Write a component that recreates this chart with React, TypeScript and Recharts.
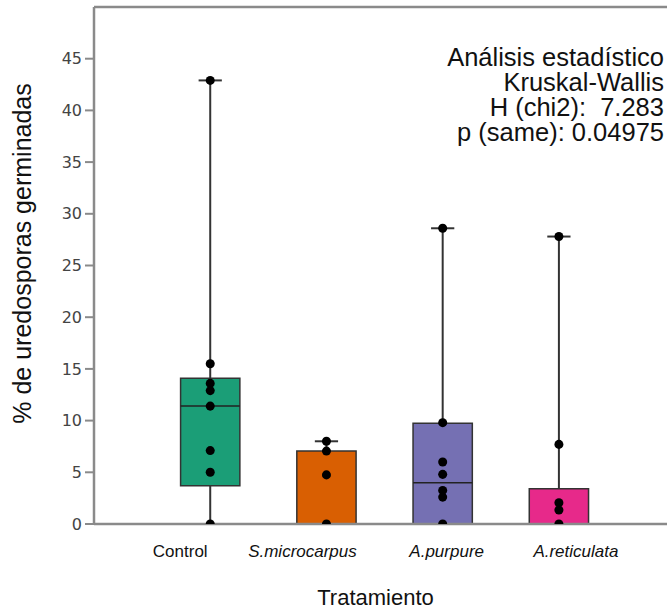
import {
  ComposedChart,
  ReferenceArea,
  ReferenceLine,
  Scatter,
  XAxis,
  YAxis,
} from "recharts";

const categories = ["Control", "S.microcarpus", "A.purpure", "A.reticulata"];
const positions = [1, 2, 3, 4];
const q1 = [3.7, 0, 0, 0];
const median = [11.4, 0, 4.0, 0];
const q3 = [14.1, 7.06, 9.75, 3.4];
const whiskerLow = [0, 0, 0, 0];
const whiskerHigh = [42.9, 8.0, 28.6, 27.8];
const colors = ["#1b9e77", "#d95f02", "#7570b3", "#e7298a"];

const controlPoints = [0, 5.0, 7.1, 11.4, 12.9, 13.6, 15.5, 42.9];
const microcarpusPoints = [0, 4.75, 7.05, 8.0];
const purpurePoints = [0, 2.6, 3.25, 4.8, 6.0, 9.8, 28.6];
const reticulataPoints = [0, 1.35, 2.05, 7.7, 27.8];

const yTicks = [0, 5, 10, 15, 20, 25, 30, 35, 40, 45];
const statLines = [
  "Análisis estadístico",
  "Kruskal-Wallis",
  "H (chi2):  7.283",
  "p (same): 0.04975",
];

// layout only
const BOX_HALF = 0.255;
const CAP_HALF = 0.1;
const tickShift = [-30, -24, 4, 17];
const FONT = "'Liberation Sans', Arial, sans-serif";

const points = [controlPoints, microcarpusPoints, purpurePoints, reticulataPoints].flatMap(
  (vals, i) => vals.map((y) => ({ x: positions[i], y }))
);

function CategoryTick(props: any) {
  const { x, y, payload } = props;
  const i = positions.indexOf(payload.value);
  if (i < 0) return null;
  return (
    <text
      x={x + tickShift[i]}
      y={y}
      dy={33}
      textAnchor="middle"
      fontFamily={FONT}
      fontSize={17}
      fontStyle={i === 0 ? "normal" : "italic"}
      fill="#111"
    >
      {categories[i]}
    </text>
  );
}

function YLabel(props: any) {
  const vb = props.viewBox;
  const cy = vb.y + vb.height / 2 - 12;
  return (
    <text
      x={31}
      y={cy}
      transform={`rotate(-90, 31, ${cy})`}
      textAnchor="middle"
      fontFamily={FONT}
      fontSize={25}
      fill="#111"
    >
      % de uredosporas germinadas
    </text>
  );
}

export default function App() {
  return (
    <div style={{ position: "absolute", left: 0, top: 0, background: "#fff" }}>
      <ComposedChart
        width={667}
        height={613}
        margin={{ top: 7, right: 0, bottom: 0, left: 0 }}
      >
        <XAxis
          type="number"
          dataKey="x"
          domain={[0, 4.93]}
          ticks={positions}
          tick={<CategoryTick />}
          tickLine={false}
          tickSize={0}
          tickMargin={0}
          height={89}
          axisLine={{ stroke: "#8a8a8a", strokeWidth: 2.5 }}
          label={{
            value: "Tratamiento",
            position: "insideBottom",
            offset: 8,
            dx: -5,
            fontFamily: FONT,
            fontSize: 22,
            fill: "#111",
          }}
        />
        <YAxis
          type="number"
          dataKey="y"
          domain={[0, 50]}
          ticks={yTicks}
          allowDataOverflow
          width={94}
          tickSize={9}
          tickMargin={3}
          axisLine={{ stroke: "#8a8a8a", strokeWidth: 2.5 }}
          tickLine={{ stroke: "#8a8a8a", strokeWidth: 2 }}
          tick={{ fill: "#444", fontSize: 16, fontFamily: "'DejaVu Sans', sans-serif" }}
          label={{ content: <YLabel /> }}
        />
        <ReferenceLine y={50} stroke="#8a8a8a" strokeWidth={2.5} />
        {positions.map((p, i) => (
          <ReferenceArea
            key={`box-${i}`}
            x1={p - BOX_HALF}
            x2={p + BOX_HALF}
            y1={q1[i]}
            y2={q3[i]}
            fill={colors[i]}
            fillOpacity={1}
            stroke="#333"
            strokeWidth={1.5}
          />
        ))}
        {positions.map((p, i) => (
          <ReferenceLine
            key={`med-${i}`}
            segment={[
              { x: p - BOX_HALF, y: median[i] },
              { x: p + BOX_HALF, y: median[i] },
            ]}
            stroke="#222"
            strokeWidth={1.5}
          />
        ))}
        {positions.map((p, i) => (
          <ReferenceLine
            key={`wh-${i}`}
            segment={[
              { x: p, y: q3[i] },
              { x: p, y: whiskerHigh[i] },
            ]}
            stroke="#333"
            strokeWidth={2}
          />
        ))}
        {positions.map((p, i) =>
          q1[i] > whiskerLow[i] ? (
            <ReferenceLine
              key={`wl-${i}`}
              segment={[
                { x: p, y: whiskerLow[i] },
                { x: p, y: q1[i] },
              ]}
              stroke="#333"
              strokeWidth={2}
            />
          ) : null
        )}
        {positions.map((p, i) => (
          <ReferenceLine
            key={`capH-${i}`}
            segment={[
              { x: p - CAP_HALF, y: whiskerHigh[i] },
              { x: p + CAP_HALF, y: whiskerHigh[i] },
            ]}
            stroke="#333"
            strokeWidth={2}
          />
        ))}
        {positions.map((p, i) => (
          <ReferenceLine
            key={`capL-${i}`}
            segment={[
              { x: p - CAP_HALF, y: whiskerLow[i] },
              { x: p + CAP_HALF, y: whiskerLow[i] },
            ]}
            stroke="#333"
            strokeWidth={2}
          />
        ))}
        <Scatter data={points} fill="#000" isAnimationActive={false} />
        <g>
          {statLines.map((s, i) => (
            <text
              key={s}
              x={664}
              y={66 + i * 25}
              textAnchor="end"
              fontFamily={FONT}
              fontSize={25.5}
              fill="#111"
              style={{ whiteSpace: "pre" }}
            >
              {s}
            </text>
          ))}
        </g>
      </ComposedChart>
    </div>
  );
}
